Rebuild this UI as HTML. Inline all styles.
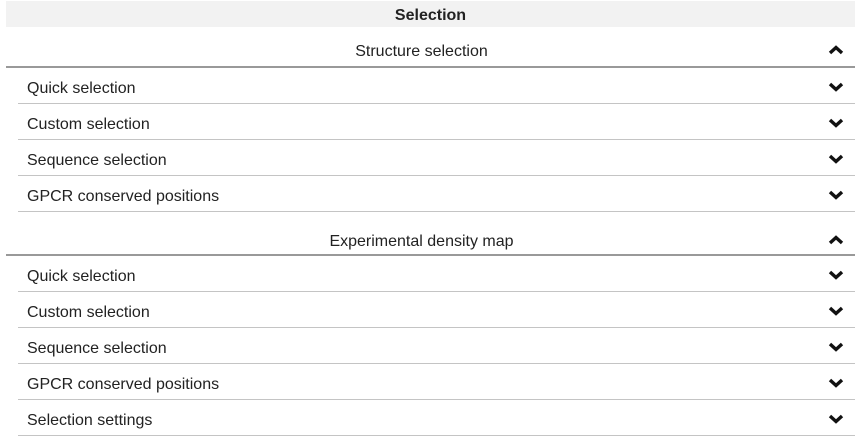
<!DOCTYPE html>
<html><head><meta charset="utf-8"><style>
*{margin:0;padding:0;box-sizing:border-box}
body{width:866px;height:447px;background:#fff;position:relative;overflow:hidden;font-family:"Liberation Sans",sans-serif;color:#222}
.a{position:absolute}
.title{left:6px;top:1px;width:849px;height:26px;background:#f2f2f2;text-align:center;font-weight:bold;font-size:16px;line-height:29px;color:#222}
.sh{left:6px;width:831px;text-align:center;font-size:16px;line-height:20px}
.thick{left:6px;width:849px;height:2px;background:#999}
.thin{left:18px;width:837px;height:1px;background:#c4c4c4}
.it{left:27px;font-size:16px;line-height:20px}
svg.c{position:absolute;left:828px;width:16px;height:10px}
</style></head><body>
<div class="a title">Selection</div>

<div class="a sh" style="top:42px">Structure selection</div>
<svg class="c" style="top:45px" viewBox="0 0 16 10"><path d="M2 8 L8 2.5 L14 8" stroke="#111" stroke-width="3.4" fill="none"/></svg>
<div class="a thick" style="top:66px"></div>

<div class="a it" style="top:79px">Quick selection</div>
<svg class="c" style="top:82px" viewBox="0 0 16 10"><path d="M2 2 L8 7.5 L14 2" stroke="#111" stroke-width="3.4" fill="none"/></svg>
<div class="a thin" style="top:103px"></div>
<div class="a it" style="top:115px">Custom selection</div>
<svg class="c" style="top:118px" viewBox="0 0 16 10"><path d="M2 2 L8 7.5 L14 2" stroke="#111" stroke-width="3.4" fill="none"/></svg>
<div class="a thin" style="top:139px"></div>
<div class="a it" style="top:151px">Sequence selection</div>
<svg class="c" style="top:154px" viewBox="0 0 16 10"><path d="M2 2 L8 7.5 L14 2" stroke="#111" stroke-width="3.4" fill="none"/></svg>
<div class="a thin" style="top:175px"></div>
<div class="a it" style="top:187px">GPCR conserved positions</div>
<svg class="c" style="top:190px" viewBox="0 0 16 10"><path d="M2 2 L8 7.5 L14 2" stroke="#111" stroke-width="3.4" fill="none"/></svg>
<div class="a thin" style="top:211px"></div>

<div class="a sh" style="top:232px">Experimental density map</div>
<svg class="c" style="top:235px" viewBox="0 0 16 10"><path d="M2 8 L8 2.5 L14 8" stroke="#111" stroke-width="3.4" fill="none"/></svg>
<div class="a thick" style="top:254px"></div>

<div class="a it" style="top:267px">Quick selection</div>
<svg class="c" style="top:270px" viewBox="0 0 16 10"><path d="M2 2 L8 7.5 L14 2" stroke="#111" stroke-width="3.4" fill="none"/></svg>
<div class="a thin" style="top:291px"></div>
<div class="a it" style="top:303px">Custom selection</div>
<svg class="c" style="top:306px" viewBox="0 0 16 10"><path d="M2 2 L8 7.5 L14 2" stroke="#111" stroke-width="3.4" fill="none"/></svg>
<div class="a thin" style="top:327px"></div>
<div class="a it" style="top:339px">Sequence selection</div>
<svg class="c" style="top:342px" viewBox="0 0 16 10"><path d="M2 2 L8 7.5 L14 2" stroke="#111" stroke-width="3.4" fill="none"/></svg>
<div class="a thin" style="top:363px"></div>
<div class="a it" style="top:375px">GPCR conserved positions</div>
<svg class="c" style="top:378px" viewBox="0 0 16 10"><path d="M2 2 L8 7.5 L14 2" stroke="#111" stroke-width="3.4" fill="none"/></svg>
<div class="a thin" style="top:399px"></div>
<div class="a it" style="top:411px">Selection settings</div>
<svg class="c" style="top:414px" viewBox="0 0 16 10"><path d="M2 2 L8 7.5 L14 2" stroke="#111" stroke-width="3.4" fill="none"/></svg>
<div class="a thin" style="top:435px"></div>
</body></html>
